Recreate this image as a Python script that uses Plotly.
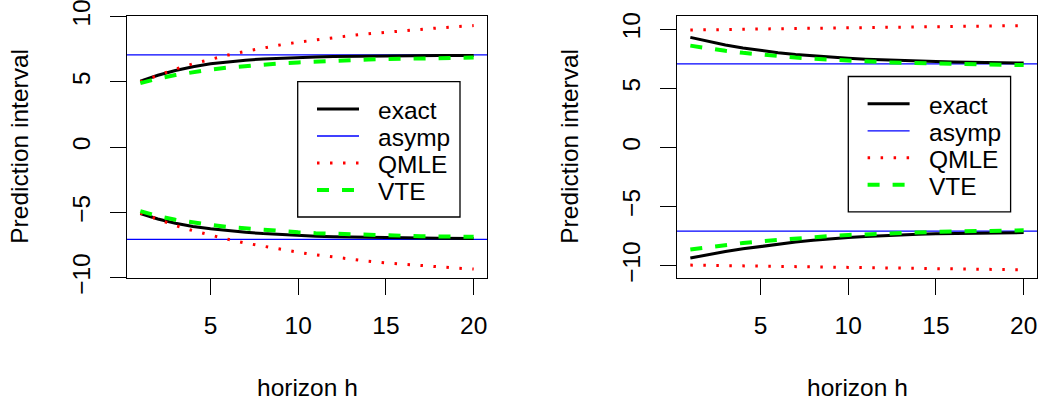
import plotly.graph_objects as go

# ---------------- data ----------------
H = list(range(1, 21))

# left panel
L_EXACT_UP = [5.05, 5.50, 5.87, 6.16, 6.38, 6.54, 6.66, 6.75, 6.82, 6.87, 6.91, 6.94, 6.96, 6.98, 6.99, 7.00, 7.01, 7.01, 7.02, 7.02]
L_EXACT_LO = [-5.08, -5.50, -5.83, -6.07, -6.25, -6.40, -6.52, -6.62, -6.70, -6.77, -6.82, -6.86, -6.89, -6.92, -6.94, -6.95, -6.96, -6.97, -6.98, -6.99]
L_QMLE_UP = [5.00, 5.52, 5.98, 6.38, 6.73, 7.05, 7.34, 7.60, 7.83, 8.04, 8.22, 8.38, 8.54, 8.68, 8.80, 8.93, 9.04, 9.13, 9.22, 9.31]
L_QMLE_LO = [-5.05, -5.55, -6.00, -6.40, -6.75, -7.06, -7.35, -7.60, -7.84, -8.05, -8.25, -8.42, -8.58, -8.73, -8.86, -8.97, -9.08, -9.17, -9.26, -9.34]
L_VTE_UP = [4.90, 5.25, 5.52, 5.75, 5.94, 6.09, 6.22, 6.33, 6.42, 6.49, 6.56, 6.61, 6.66, 6.71, 6.74, 6.77, 6.79, 6.81, 6.83, 6.86]
L_VTE_LO = [-4.90, -5.28, -5.56, -5.78, -5.96, -6.11, -6.23, -6.34, -6.44, -6.52, -6.59, -6.64, -6.69, -6.74, -6.77, -6.80, -6.82, -6.84, -6.86, -6.87]
L_ASYMP = 7.07

# right panel
R_EXACT_UP = [9.32, 8.98, 8.67, 8.42, 8.19, 8.02, 7.87, 7.75, 7.64, 7.55, 7.47, 7.41, 7.36, 7.31, 7.27, 7.24, 7.21, 7.19, 7.17, 7.15]
R_EXACT_LO = [-9.35, -9.06, -8.80, -8.57, -8.36, -8.17, -8.00, -7.85, -7.72, -7.62, -7.53, -7.45, -7.39, -7.34, -7.30, -7.27, -7.24, -7.22, -7.21, -7.20]
R_QMLE_UP = [9.94, 9.97, 9.99, 10.01, 10.03, 10.05, 10.07, 10.09, 10.11, 10.13, 10.14, 10.16, 10.18, 10.20, 10.22, 10.24, 10.26, 10.28, 10.30, 10.32]
R_QMLE_LO = [-9.95, -9.98, -10.00, -10.02, -10.04, -10.06, -10.08, -10.10, -10.12, -10.14, -10.16, -10.18, -10.20, -10.22, -10.24, -10.26, -10.28, -10.30, -10.32, -10.35]
R_VTE_UP = [8.62, 8.38, 8.18, 8.01, 7.86, 7.73, 7.61, 7.51, 7.42, 7.34, 7.28, 7.22, 7.17, 7.13, 7.09, 7.06, 7.04, 7.02, 7.00, 6.98]
R_VTE_LO = [-8.62, -8.42, -8.24, -8.08, -7.94, -7.81, -7.68, -7.58, -7.48, -7.40, -7.33, -7.27, -7.22, -7.17, -7.13, -7.10, -7.07, -7.05, -7.03, -7.01]
R_ASYMP = 7.08

X_TICKS = [5, 10, 15, 20]
Y_TICKS = [-10, -5, 0, 5, 10]
LEGEND_LABELS = ["exact", "asymp", "QMLE", "VTE"]
X_TITLE = "horizon h"
Y_TITLE = "Prediction interval"

# ---------------- styling ----------------
W, HGT = 1041, 403
FONT = "Liberation Sans, Arial, sans-serif"
FS = 24.5

STY = {
    "exact": dict(color="#000000", width=3, dash="solid"),
    "asymp": dict(color="#0000FF", width=1.3, dash="solid"),
    "QMLE": dict(color="#FF0000", width=3, dash="2.5px,10.5px"),
    "VTE": dict(color="#00FF00", width=4, dash="12px,13px"),
}


def px_x(x):
    return x / W


def px_y(y):
    return 1 - y / HGT


BOX_TOP, BOX_BOT = 15.5, 278.0
PANELS = [
    dict(ax="", left=127.0, right=487.0, yr=[-10.02, 10.08],
         series=dict(exact=(L_EXACT_UP, L_EXACT_LO), QMLE=(L_QMLE_UP, L_QMLE_LO), VTE=(L_VTE_UP, L_VTE_LO)),
         asymp=L_ASYMP, leg=(297.7, 81.7)),
    dict(ax="2", left=677.0, right=1037.0, yr=[-11.04, 11.17],
         series=dict(exact=(R_EXACT_UP, R_EXACT_LO), QMLE=(R_QMLE_UP, R_QMLE_LO), VTE=(R_VTE_UP, R_VTE_LO)),
         asymp=R_ASYMP, leg=(848.3, 76.5)),
]

fig = go.Figure()
shapes = []
annotations = []
layout = dict(
    width=W, height=HGT,
    margin=dict(l=0, r=0, t=0, b=0, pad=0, autoexpand=False),
    paper_bgcolor="white", plot_bgcolor="white",
    showlegend=False,
    font=dict(family=FONT, size=FS, color="black"),
)

for p in PANELS:
    xa, ya = "x" + p["ax"], "y" + p["ax"]
    for name in ["exact", "QMLE", "VTE"]:
        up, lo = p["series"][name]
        s = STY[name]
        for ys in (up, lo):
            fig.add_trace(go.Scatter(
                x=H, y=ys, mode="lines", xaxis=xa, yaxis=ya, name=name,
                line=dict(color=s["color"], width=s["width"], dash=s["dash"]),
                hoverinfo="skip",
            ))
    # asymptotic bounds (abline)
    for v in (p["asymp"], -p["asymp"]):
        shapes.append(dict(type="line", xref=xa + " domain", yref=ya, x0=0, x1=1, y0=v, y1=v,
                           layer="below", line=dict(color=STY["asymp"]["color"], width=STY["asymp"]["width"])))

    axis_common = dict(showline=True, mirror=True, linecolor="black", linewidth=1.3,
                       showgrid=False, zeroline=False, ticks="outside", ticklen=16,
                       tickwidth=1.3, tickcolor="black", automargin=False,
                       ticklabeloverflow="allow",
                       tickfont=dict(family=FONT, size=FS, color="black"))
    layout["xaxis" + p["ax"]] = dict(
        axis_common, domain=[px_x(p["left"]), px_x(p["right"])], range=[0.24, 20.76],
        tickmode="array", tickvals=X_TICKS, anchor=ya, ticklabelstandoff=9)
    layout["yaxis" + p["ax"]] = dict(
        axis_common, domain=[px_y(BOX_BOT), px_y(BOX_TOP)], range=p["yr"],
        tickmode="array", tickvals=Y_TICKS, anchor=xa, tickangle=-90, ticklabelstandoff=10)

    cx = (p["left"] + p["right"]) / 2
    annotations.append(dict(text=X_TITLE, xref="paper", yref="paper", x=px_x(cx), y=px_y(387.5),
                            xanchor="center", yanchor="middle", showarrow=False,
                            font=dict(family=FONT, size=FS, color="black")))
    annotations.append(dict(text=Y_TITLE, xref="paper", yref="paper", x=px_x(p["left"] - 107), y=px_y((BOX_TOP + BOX_BOT) / 2),
                            xanchor="center", yanchor="middle", textangle=-90, showarrow=False,
                            font=dict(family=FONT, size=FS, color="black")))

    # legend box (R-style)
    lx, ly = p["leg"]
    shapes.append(dict(type="rect", xref="paper", yref="paper",
                       x0=px_x(lx), x1=px_x(lx + 162.3), y0=px_y(ly), y1=px_y(ly + 135.3),
                       fillcolor="white", line=dict(color="black", width=1.3), layer="above"))
    for i, lab in enumerate(LEGEND_LABELS):
        ry = ly + 27.3 + 27 * i
        s = STY[lab]
        shapes.append(dict(type="line", xref="paper", yref="paper",
                           x0=px_x(lx + 19.3), x1=px_x(lx + 61.3), y0=px_y(ry), y1=px_y(ry),
                           line=dict(color=s["color"], width=s["width"], dash=s["dash"]), layer="above"))
        annotations.append(dict(text=lab, xref="paper", yref="paper", x=px_x(lx + 78.5), y=px_y(ry + 1.5),
                                xanchor="left", yanchor="middle", showarrow=False,
                                font=dict(family=FONT, size=FS, color="black")))

layout["shapes"] = shapes
layout["annotations"] = annotations
fig.update_layout(**layout)
fig.write_html("out.html", config={"displayModeBar": False},
               post_script="document.body.style.margin='0px';document.body.style.padding='0px';")
